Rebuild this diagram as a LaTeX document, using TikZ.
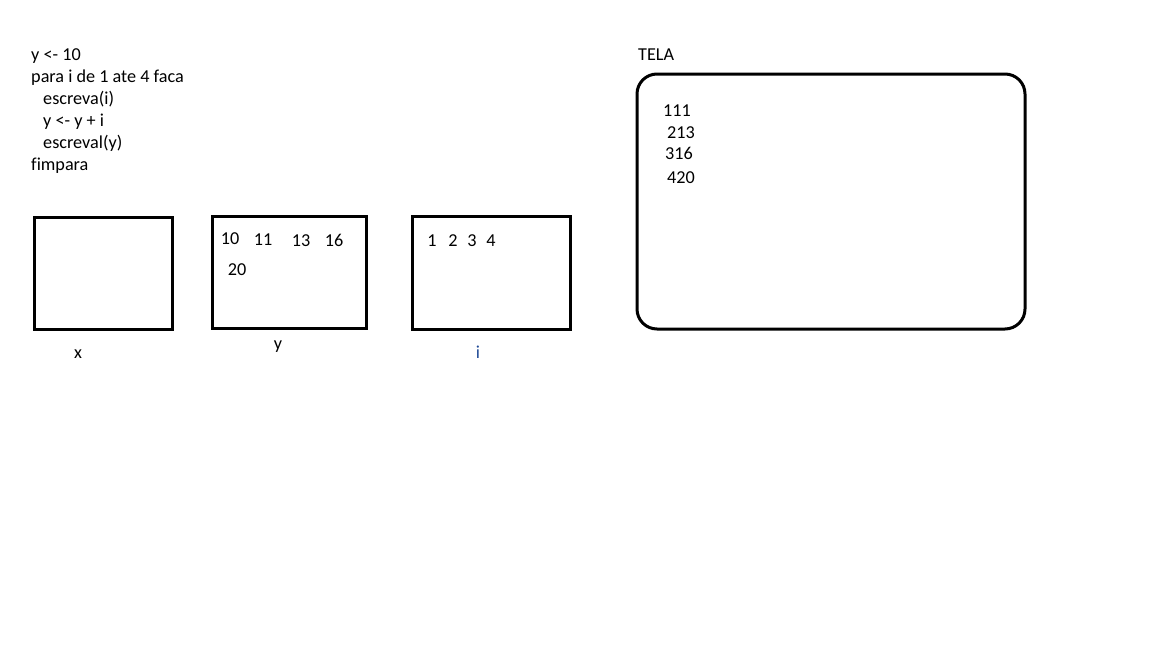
\documentclass[tikz,border=0pt]{standalone}
\usepackage{fontspec}
\setmainfont[Ligatures=NoCommon]{Carlito}
\usepackage{tikz}
\usetikzlibrary{positioning}
\definecolor{lblblue}{RGB}{31,73,150}
\tikzset{
  % plain text, in the size of the sketch, set on its baseline
  ptext/.style  = {font=\fontsize{18.2pt}{21pt}\selectfont, inner sep=0pt, anchor=base},
  % a code line, set from its left end
  cline/.style  = {ptext, anchor=base west},
  % a box standing for a variable
  varbox/.style = {draw=black, line width=3pt, inner sep=0pt},
  % the screen box
  telabox/.style = {draw=black, line width=3pt, rounded corners=20pt, inner sep=0pt},
}

\begin{document}
\begin{tikzpicture}[x=1pt,y=1pt]
    \useasboundingbox (0,0) rectangle (1152,-648);
    % the algorithm
    \node[cline] (c1) at (31,-60) {y <- 10};
    \node[cline] (c2) at (31,-82) {para i de 1 ate 4 faca};
    \node[cline] (c3) at (43,-104) {escreva(i)};
    \node[cline] (c4) at (43,-126) {y <- y + i};
    \node[cline] (c5) at (43,-148) {escreval(y)};
    \node[cline] (c6) at (31,-170) {fimpara};
    % variable boxes
    \node[varbox,minimum width=138pt,minimum height=112pt] (xbox) at (103,-273) {};
    \node[varbox,minimum width=154pt,minimum height=112pt] (ybox) at (289,-272) {};
    \node[varbox,minimum width=158pt,minimum height=113pt] (ibox) at (491,-272.5) {};
    \node[ptext] (xlbl) at (78,-358) {x};
    \node[ptext] (ylbl) at (278,-349) {y};
    \node[ptext,text=lblblue] (ilbl) at (478,-358) {i};
    % values of y
    \node[ptext] (y10) at (230,-244) {10};
    \node[ptext] (y11) at (263,-245) {11};
    \node[ptext] (y13) at (301,-246) {13};
    \node[ptext] (y16) at (334,-246) {16};
    \node[ptext] (y20) at (237,-275) {20};
    % values of i
    \node[ptext] (i1) at (432,-246) {1};
    \node[ptext] (i2) at (453,-246) {2};
    \node[ptext] (i3) at (472,-246) {3};
    \node[ptext] (i4) at (491,-246) {4};
    % screen
    \node[cline] (telalbl) at (638,-60) {TELA};
    \node[telabox,minimum width=388pt,minimum height=255pt] (tela) at (831,-201.5) {};
    \node[ptext] (out1) at (677,-116) {111};
    \node[ptext] (out2) at (681,-138) {213};
    \node[ptext] (out3) at (679,-159) {316};
    \node[ptext] (out4) at (681,-183) {420};
  \end{tikzpicture}
\end{document}
